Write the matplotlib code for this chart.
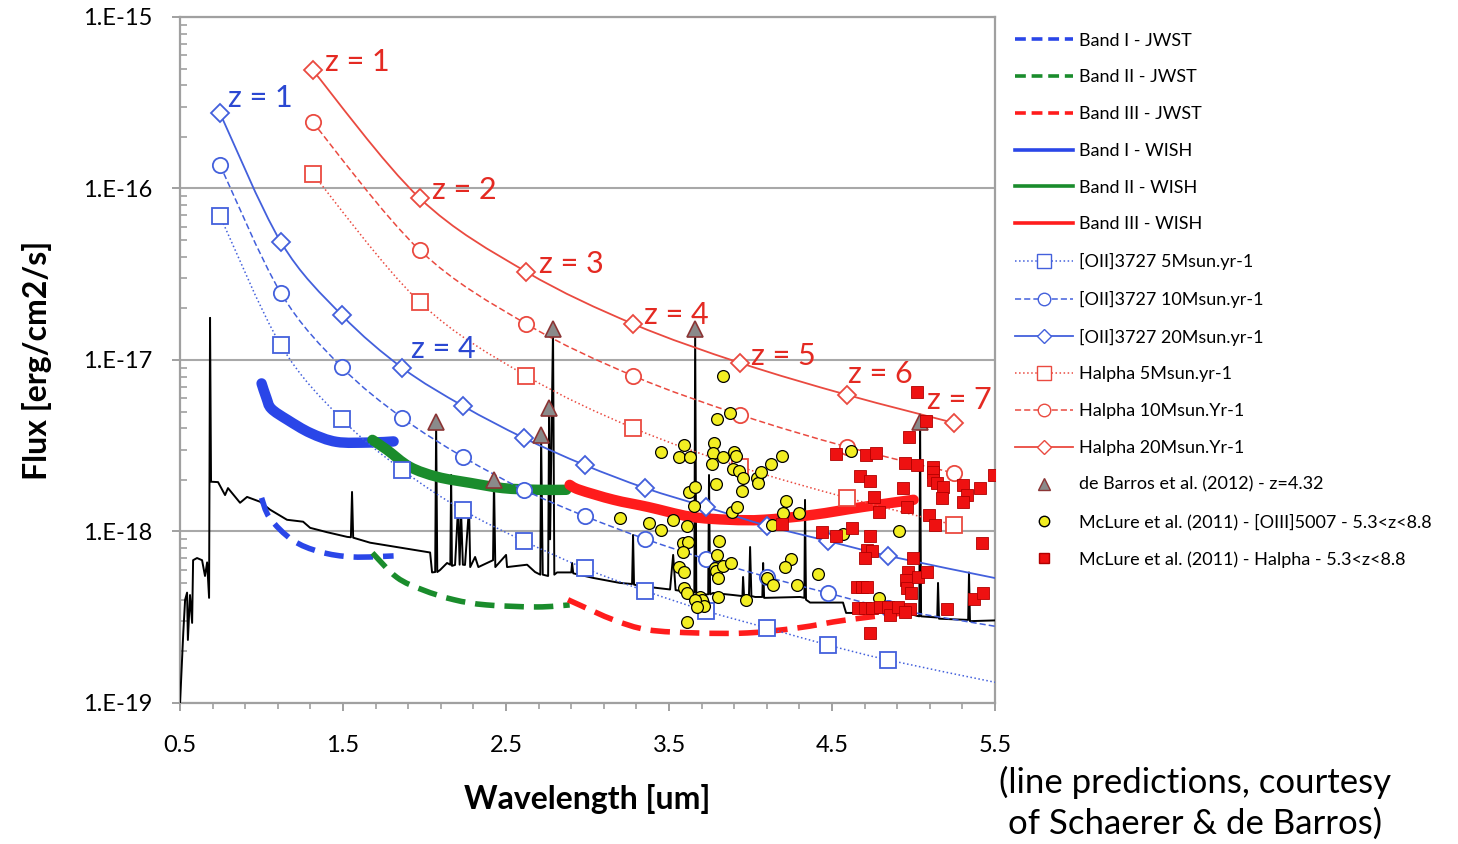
import numpy as np
import matplotlib
matplotlib.use('Agg')
import matplotlib.pyplot as plt
from matplotlib.lines import Line2D
from matplotlib.patches import PathPatch
from matplotlib.path import Path
from matplotlib.ticker import FixedLocator, FuncFormatter, MultipleLocator

plt.rcParams['font.family'] = ['Lato', 'DejaVu Sans']

UNIT = 1e-18  # fluxes below are in 1e-18 erg/cm2/s

# line predictions (markers at z = 1..12 for [OII], z = 1..7 for Halpha)
oii_wl = [0.745, 1.118, 1.491, 1.864, 2.236, 2.609, 2.982, 3.354, 3.727, 4.100, 4.473, 4.845, 5.5]
oii_5 = [69, 12.2, 4.53, 2.28, 1.33, 0.88, 0.61, 0.45, 0.344, 0.274, 0.218, 0.178, 0.132]
oii_10 = [137, 24.6, 9.1, 4.59, 2.72, 1.75, 1.23, 0.904, 0.69, 0.543, 0.438, 0.358, 0.28]
oii_20 = [275, 48.8, 18.3, 8.98, 5.39, 3.51, 2.44, 1.79, 1.39, 1.08, 0.88, 0.72, 0.535]
ha_wl = [1.313, 1.969, 2.625, 3.281, 3.938, 4.594, 5.250]
ha_5 = [122, 21.8, 8.07, 4.01, 2.38, 1.57, 1.09]
ha_10 = [244, 43.8, 16.2, 8.07, 4.78, 3.11, 2.19]
ha_20 = [491, 88, 32.6, 16.2, 9.6, 6.25, 4.29]

# sensitivity bands
b1_wish_wl = [1.00, 1.03, 1.06, 1.16, 1.30, 1.46, 1.66, 1.81]
b1_wish = [7.3, 6.0, 5.2, 4.47, 3.75, 3.33, 3.3, 3.35]
b2_wish_wl = [1.68, 1.77, 1.91, 2.08, 2.28, 2.48, 2.69, 2.87]
b2_wish = [3.42, 2.99, 2.38, 2.08, 1.92, 1.79, 1.75, 1.75]
b3_wish_wl = [2.89, 2.95, 3.16, 3.37, 3.63, 3.87, 4.08, 4.38, 4.69, 5.00]
b3_wish = [1.87, 1.75, 1.53, 1.39, 1.22, 1.17, 1.17, 1.25, 1.39, 1.53]
b1_jwst_wl = [1.00, 1.05, 1.19, 1.36, 1.56, 1.81]
b1_jwst = [1.57, 1.20, 0.89, 0.76, 0.71, 0.72]
b2_jwst_wl = [1.68, 1.83, 1.99, 2.18, 2.38, 2.69, 2.89]
b2_jwst = [0.75, 0.54, 0.456, 0.40, 0.373, 0.363, 0.373]
b3_jwst_wl = [2.88, 2.95, 3.16, 3.37, 3.67, 3.98, 4.29, 4.59, 5.00]
b3_jwst = [0.40, 0.373, 0.305, 0.267, 0.256, 0.256, 0.274, 0.305, 0.34]

# model galaxy spectrum
sed_wl = [0.500, 0.520, 0.531, 0.543, 0.548, 0.561, 0.574, 0.580, 0.604, 0.635, 0.653, 0.666,
          0.678, 0.684, 0.690, 0.733, 0.776, 0.794, 0.868, 0.911, 0.991, 1.052, 1.156, 1.255,
          1.298, 1.402, 1.525, 1.548, 1.555, 1.562, 1.666, 2.034, 2.046, 2.065, 2.071, 2.078,
          2.095, 2.138, 2.158, 2.163, 2.168, 2.187, 2.206, 2.215, 2.224, 2.235, 2.248, 2.273,
          2.280, 2.310, 2.330, 2.420, 2.426, 2.434, 2.500, 2.506, 2.629, 2.678, 2.710, 2.715,
          2.725, 2.758, 2.764, 2.770, 2.788, 2.796, 2.813, 2.900, 2.905, 2.912, 3.034, 3.199,
          3.273, 3.279, 3.285, 3.322, 3.506, 3.525, 3.540, 3.617, 3.655, 3.660, 3.667, 3.690,
          3.740, 3.745, 3.752, 3.770, 3.893, 3.950, 3.954, 3.960, 3.990, 3.997, 4.005, 4.028,
          4.072, 4.077, 4.083, 4.304, 4.330, 4.334, 4.340, 4.365, 4.567, 4.586, 4.752, 4.764,
          4.775, 4.899, 5.021, 5.035, 5.040, 5.046, 5.145, 5.150, 5.156, 5.335, 5.340, 5.346,
          5.500]
sed_flux = [0.100, 0.26, 0.40, 0.44, 0.233, 0.426, 0.293, 0.68, 0.70, 0.68, 0.55, 0.66,
            0.41, 17.6, 1.95, 1.94, 1.63, 1.79, 1.47, 1.59, 1.49, 1.34, 1.17, 1.14,
            1.05, 0.99, 0.93, 0.925, 1.70, 0.92, 0.86, 0.754, 0.577, 0.58, 4.32, 0.58,
            0.596, 0.655, 0.64, 2.135, 0.63, 0.638, 1.408, 0.64, 1.30, 0.64, 0.638, 1.39,
            0.62, 0.71, 0.62, 0.68, 2.00, 0.62, 0.73, 0.62, 0.64, 0.58, 0.56, 3.65,
            0.56, 0.55, 5.25, 0.9, 15.2, 0.56, 0.577, 0.577, 0.655, 0.57, 0.536, 0.501,
            0.494, 0.954, 0.49, 0.481, 0.459, 0.73, 0.455, 0.444, 0.44, 15.2, 0.44, 0.426,
            0.43, 2.135, 0.43, 0.438, 0.426, 0.42, 0.543, 0.42, 0.42, 0.812, 0.42, 0.415,
            0.415, 0.655, 0.41, 0.415, 0.41, 1.527, 0.40, 0.385, 0.385, 0.335, 0.335, 0.38,
            0.335, 0.348, 0.322, 0.32, 4.32, 0.32, 0.315, 0.501, 0.31, 0.305, 0.577, 0.30,
            0.303]

# observed lines and samples
barros_wl = [2.071, 2.426, 2.715, 2.764, 2.788, 3.660, 5.040]
barros_flux = [4.32, 2.00, 3.65, 5.25, 15.2, 15.2, 4.32]

oiii_wl = [3.451, 3.592, 3.561, 3.629, 3.623, 3.660, 3.653, 3.199, 3.377, 3.451, 3.525, 3.610,
           3.586, 3.617, 3.586, 3.561, 3.592, 3.592, 3.610, 3.610, 3.690, 3.709, 3.831, 3.874,
           3.794, 3.776, 3.770, 3.831, 3.899, 3.911, 3.764, 3.893, 3.929, 3.954, 3.948, 3.788,
           4.040, 4.046, 4.064, 4.126, 4.193, 3.887, 3.917, 4.218, 4.199, 4.298, 4.132, 3.807,
           3.794, 3.782, 3.788, 3.831, 3.880, 3.801, 4.248, 4.212, 4.414, 4.101, 4.138, 4.285,
           3.801, 3.972, 3.702, 3.715, 4.617, 4.567, 4.911, 4.788, 3.660, 3.672]
oiii_flux = [2.91, 3.19, 2.72, 2.72, 1.70, 1.82, 1.41, 1.20, 1.12, 1.02, 1.17, 1.08,
             0.857, 0.869, 0.754, 0.621, 0.58, 0.468, 0.438, 0.297, 0.415, 0.385, 8.07, 4.91,
             4.53, 3.28, 2.87, 2.72, 2.91, 2.76, 2.48, 2.31, 2.25, 2.05, 1.72, 1.89,
             2.05, 1.92, 2.22, 2.48, 2.76, 1.30, 1.39, 1.51, 1.28, 1.28, 1.09, 0.88,
             0.730, 0.61, 0.589, 0.629, 0.655, 0.536, 0.69, 0.621, 0.565, 0.536, 0.487, 0.487,
             0.415, 0.399, 0.399, 0.368, 2.95, 0.965, 1.00, 0.41, 0.399, 0.363]

halpha_wl = [5.021, 5.077, 4.972, 4.525, 4.709, 4.770, 4.948, 5.021, 5.120, 5.120, 5.120, 5.144,
             5.181, 5.175, 5.304, 5.328, 5.304, 5.408, 5.494, 4.672, 4.733, 4.936, 4.758, 4.788,
             4.960, 5.095, 5.132, 4.439, 4.525, 4.623, 4.733, 4.715, 4.745, 4.702, 5.420, 4.997,
             4.966, 4.954, 4.960, 4.985, 5.028, 5.083, 4.653, 4.684, 4.715, 4.660, 4.702, 4.745,
             4.794, 4.843, 4.856, 4.979, 5.206, 5.371, 5.426, 4.733, 4.193, 4.905, 4.948]
halpha_flux = [6.51, 4.41, 3.56, 2.83, 2.80, 2.87, 2.51, 2.44, 2.38, 2.22, 2.00, 1.92,
               1.82, 1.57, 1.87, 1.63, 1.49, 1.79, 2.135, 2.11, 1.97, 1.79, 1.59, 1.30,
               1.39, 1.25, 1.09, 0.993, 0.94, 1.05, 0.94, 0.78, 0.77, 0.70, 0.857, 0.70,
               0.577, 0.521, 0.468, 0.438, 0.543, 0.58, 0.474, 0.474, 0.474, 0.358, 0.358, 0.358,
               0.363, 0.363, 0.326, 0.353, 0.353, 0.404, 0.438, 0.256, 1.106, 0.363, 0.34]

BLUE = '#4360dc'
RED = '#ea4a40'
BAND_BLUE = '#2a46e8'
BAND_GREEN = '#1a8c2c'
BAND_RED = '#ff1c1c'


def fl(values):
    return np.asarray(values) * UNIT


def smooth_path(xs, fs):
    """Cubic Bezier path through the points (Catmull-Rom in x / log-flux space)."""
    p = np.column_stack([xs, np.log10(fl(fs))])
    q = np.vstack([p[0], p, p[-1]])
    verts, codes = [p[0]], [Path.MOVETO]
    for i in range(len(p) - 1):
        p0, p1, p2, p3 = q[i], q[i + 1], q[i + 2], q[i + 3]
        verts += [p1 + (p2 - p0) / 6, p2 - (p3 - p1) / 6, p2]
        codes += [Path.CURVE4] * 3
    verts = np.array(verts)
    verts[:, 1] = 10 ** verts[:, 1]
    return Path(verts, codes)


def smooth_line(ax, xs, fs, **kw):
    ax.add_patch(PathPatch(smooth_path(xs, fs), fill=False, **kw))


fig = plt.figure(figsize=(14.58, 8.44), dpi=100)
ax = fig.add_axes([0.1235, 0.1671, 0.5590, 0.8128])
ax.set_yscale('log')
ax.set_xlim(0.5, 5.5)
ax.set_ylim(1e-19, 1e-15)

# galaxy spectrum
ax.plot(sed_wl, fl(sed_flux), color='black', lw=1.4, zorder=3)

# bands
dash = (0, (3.5, 1.8))
smooth_line(ax, b1_jwst_wl, b1_jwst, edgecolor=BAND_BLUE, lw=4, ls=dash, capstyle='butt', zorder=4)
smooth_line(ax, b2_jwst_wl, b2_jwst, edgecolor=BAND_GREEN, lw=4, ls=dash, capstyle='butt', zorder=4)
smooth_line(ax, b3_jwst_wl, b3_jwst, edgecolor=BAND_RED, lw=4, ls=dash, capstyle='butt', zorder=4)
smooth_line(ax, b1_wish_wl, b1_wish, edgecolor=BAND_BLUE, lw=7.5, capstyle='round', zorder=4)
smooth_line(ax, b2_wish_wl, b2_wish, edgecolor=BAND_GREEN, lw=7.5, capstyle='round', zorder=4)
smooth_line(ax, b3_wish_wl, b3_wish, edgecolor=BAND_RED, lw=7.5, capstyle='round', zorder=4)

# line predictions: smooth curve plus open markers
curves = [
    (oii_wl, oii_5, BLUE, ':', 1.1, 's', 12),
    (oii_wl, oii_10, BLUE, (0, (4, 2)), 1.1, 'o', 11),
    (oii_wl, oii_20, BLUE, '-', 1.3, 'D', 9),
    (ha_wl, ha_5, RED, ':', 1.1, 's', 12),
    (ha_wl, ha_10, RED, (0, (4, 2)), 1.1, 'o', 11),
    (ha_wl, ha_20, RED, '-', 1.3, 'D', 9),
]
for xs, fs, col, ls, lw, mk, ms in curves:
    smooth_line(ax, xs, fs, edgecolor=col, ls=ls, lw=lw, zorder=5)
    n = 12 if xs is oii_wl else len(xs)
    ax.plot(xs[:n], fl(fs[:n]), ls='none', marker=mk, ms=ms, mfc='white', mec=col, mew=1.3,
            zorder=5)

# observations
ax.plot(barros_wl, fl(barros_flux), ls='none', marker='^', ms=11, mfc='#8a8a8a', mec='#8b3535',
        mew=1.2, zorder=6)
ax.plot(oiii_wl, fl(oiii_flux), ls='none', marker='o', ms=8.5, mfc='#f2ee22', mec='black',
        mew=0.9, zorder=7)
ax.plot(halpha_wl, fl(halpha_flux), ls='none', marker='s', ms=8, mfc='#ee1111', mec='#b00000',
        mew=0.6, zorder=7)

# redshift labels
z_off = {1: (12, 8), 2: (12, 8), 3: (13, 8), 4: (11, 9), 5: (11, 7), 6: (1, 21), 7: (-27, 23)}
for i, x in enumerate(ha_wl):
    z = i + 1
    ax.annotate(f'z = {z}', (x, ha_20[i] * UNIT), xytext=z_off[z], textcoords='offset pixels',
                color='#e42a22', fontsize=22, va='center', ha='left', zorder=8)
for z, off in [(1, (8, 15)), (4, (9, 19))]:
    ax.annotate(f'z = {z}', (oii_wl[z - 1], oii_20[z - 1] * UNIT), xytext=off,
                textcoords='offset pixels', color='#2b48d2', fontsize=22, va='center',
                ha='left', zorder=8)

# axes styling
for sp in ax.spines.values():
    sp.set_color('#a0a0a0')
    sp.set_linewidth(1.6)
ax.grid(axis='y', which='major', color='#a8a8a8', lw=1.5)
ax.set_axisbelow(True)
ax.yaxis.set_major_locator(FixedLocator([1e-19, 1e-18, 1e-17, 1e-16, 1e-15]))
ax.yaxis.set_major_formatter(FuncFormatter(lambda v, _: '1.E%d' % round(np.log10(v))))
ax.xaxis.set_major_locator(MultipleLocator(1.0, offset=0.5))
ax.xaxis.set_minor_locator(MultipleLocator(0.2, offset=0.1))
ax.xaxis.set_major_formatter(FuncFormatter(lambda v, _: '%.1f' % v))
ax.tick_params(axis='both', which='major', labelsize=17, color='#a0a0a0', width=1.4, length=6)
ax.tick_params(axis='x', which='major', pad=17)
ax.tick_params(axis='y', which='major', pad=14)
ax.tick_params(axis='x', which='minor', color='#a0a0a0', width=1.2, length=4.5, direction='out')
ax.tick_params(axis='y', which='minor', color='#a0a0a0', width=1.2, length=5, direction='in',
               labelleft=False)

ax.set_xlabel('Wavelength [um]', fontsize=23, fontweight='bold', labelpad=20)
ax.set_ylabel('Flux [erg/cm2/s]', fontsize=23, fontweight='bold', labelpad=22)

# legend
leg_handles = [
    Line2D([], [], color=BAND_BLUE, lw=2.6, ls=(0, (3, 1.6))),
    Line2D([], [], color=BAND_GREEN, lw=2.6, ls=(0, (3, 1.6))),
    Line2D([], [], color=BAND_RED, lw=2.6, ls=(0, (3, 1.6))),
    Line2D([], [], color=BAND_BLUE, lw=2.6),
    Line2D([], [], color=BAND_GREEN, lw=2.6),
    Line2D([], [], color=BAND_RED, lw=2.6),
    Line2D([], [], color=BLUE, ls=':', lw=1.1, marker='s', ms=10, mfc='white'),
    Line2D([], [], color=BLUE, ls=(0, (4, 2)), lw=1.1, marker='o', ms=9, mfc='white'),
    Line2D([], [], color=BLUE, ls='-', lw=1.3, marker='D', ms=7, mfc='white'),
    Line2D([], [], color=RED, ls=':', lw=1.1, marker='s', ms=10, mfc='white'),
    Line2D([], [], color=RED, ls=(0, (4, 2)), lw=1.1, marker='o', ms=9, mfc='white'),
    Line2D([], [], color=RED, ls='-', lw=1.3, marker='D', ms=7, mfc='white'),
    Line2D([], [], ls='none', marker='^', ms=9, mfc='#8a8a8a', mec='#8b3535'),
    Line2D([], [], ls='none', marker='o', ms=7.5, mfc='#f2ee22', mec='black'),
    Line2D([], [], ls='none', marker='s', ms=7.5, mfc='#ee1111', mec='#b00000'),
]
leg_labels = ['Band I - JWST', 'Band II - JWST', 'Band III - JWST',
              'Band I - WISH', 'Band II - WISH', 'Band III - WISH',
              '[OII]3727 5Msun.yr-1', '[OII]3727 10Msun.yr-1', '[OII]3727 20Msun.yr-1',
              'Halpha 5Msun.yr-1', 'Halpha 10Msun.Yr-1', 'Halpha 20Msun.Yr-1',
              'de Barros et al. (2012) - z=4.32',
              'McLure et al. (2011) - [OIII]5007 - 5.3<z<8.8',
              'McLure et al. (2011) - Halpha - 5.3<z<8.8']
fig.legend(leg_handles, leg_labels, loc='upper left', bbox_to_anchor=(0.6915, 0.970),
           frameon=False, fontsize=13, handlelength=3.2, handletextpad=0.3,
           labelspacing=1.15, borderaxespad=0)

fig.text(0.8195, 0.0486, '(line predictions, courtesy\nof Schaerer & de Barros)', fontsize=25,
         ha='center', va='center', linespacing=1.3)

fig.savefig('out.png', dpi=100)
